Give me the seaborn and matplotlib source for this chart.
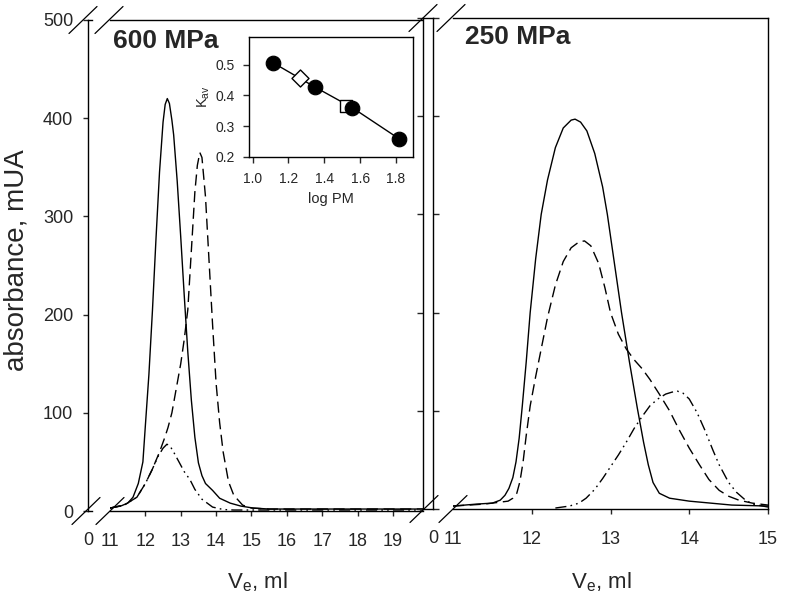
import numpy as np
import pandas as pd
import matplotlib
matplotlib.use("Agg")
import matplotlib.pyplot as plt
import seaborn as sns
from matplotlib.lines import Line2D

# ---------------- data ----------------
# 600 MPa panel
v600_solid = [11.0, 11.3, 11.5, 11.65, 11.8, 11.93, 12.0, 12.1, 12.2, 12.3, 12.4, 12.5, 12.56, 12.62,
              12.68, 12.75, 12.8, 12.9, 13.0, 13.1, 13.2, 13.3, 13.4, 13.5, 13.6, 13.7, 13.9, 14.1, 14.4,
              14.7, 15.05, 15.5, 16.5, 17.5, 18.5, 19.85]
a600_solid = [3, 5, 8, 14, 28, 50, 87, 139, 204, 277, 345, 396, 414, 420,
              415, 398, 383, 336, 279, 219, 162, 113, 75, 49, 36, 28, 21, 13, 8,
              5, 3, 2, 2, 2, 2, 2]
v600_dash = [11.0, 11.4, 11.76, 12.0, 12.19, 12.4, 12.55, 12.64, 12.75, 12.85, 13.0, 13.1, 13.2,
             13.3, 13.4, 13.47, 13.54, 13.6, 13.7, 13.8, 13.9, 14.0, 14.1, 14.2, 14.35, 14.5,
             14.75, 15.0, 15.5, 16.5, 17.5, 18.5, 19.85]
a600_dash = [3, 6, 14, 28, 42, 60, 75, 85, 100, 120, 150, 175, 205,
             265, 325, 352, 365, 360, 320, 255, 190, 130, 90, 60, 30, 16,
             6, 3, 2, 2, 2, 2, 2]
v600_dd = [11.0, 11.4, 11.76, 12.0, 12.19, 12.35, 12.5, 12.61, 12.7, 12.8, 12.95, 13.1, 13.26,
           13.4, 13.6, 13.9, 14.2, 14.5, 15.0, 16.5, 18.0, 19.85]
a600_dd = [3, 6, 14, 28, 42, 55, 64, 68, 66, 60, 50, 40, 32,
           22, 12, 4, 1.5, 1, 1, 1, 1, 1]

# 250 MPa panel
v250_solid = [11.0, 11.3, 11.5, 11.6, 11.66, 11.71, 11.76, 11.8, 11.84, 11.88, 11.93, 11.98, 12.05,
              12.12, 12.2, 12.3, 12.4, 12.5, 12.55, 12.62, 12.7, 12.8, 12.9, 12.96, 13.05, 13.14,
              13.24, 13.34, 13.42, 13.48, 13.54, 13.62, 13.75, 14.0, 14.54, 15.0]
a250_solid = [3, 5, 6, 9, 14, 21, 32, 48, 72, 105, 150, 200, 255,
              300, 335, 368, 388, 396, 397, 394, 385, 362, 328, 300, 250, 200,
              150, 103, 68, 45, 27, 16, 11, 8, 4, 3]
v250_dash = [11.0, 11.4, 11.7, 11.76, 11.81, 11.85, 11.89, 11.93, 11.98, 12.05, 12.1, 12.2, 12.3,
             12.4, 12.5, 12.6, 12.67, 12.75, 12.85, 12.93, 13.0, 13.1, 13.2, 13.3, 13.4, 13.5, 13.62,
             13.75, 13.87, 14.0, 14.13, 14.25, 14.38, 14.5, 14.63, 14.8, 15.0]
a250_dash = [3, 5, 8, 11, 16, 28, 48, 75, 105, 135, 155, 195, 228,
             252, 266, 272, 273, 268, 250, 225, 200, 178, 163, 152, 143, 132, 117,
             100, 81, 62, 45, 30, 19, 13, 9, 6, 4]
v250_dd = [12.3, 12.48, 12.6, 12.69, 12.8, 12.9, 13.0, 13.1, 13.2, 13.3, 13.4, 13.5, 13.6, 13.7,
           13.78, 13.85, 13.92, 14.0, 14.1, 14.2, 14.3, 14.38, 14.5, 14.6, 14.7, 14.8, 15.0]
a250_dd = [1, 3, 6, 11, 20, 31, 43, 55, 68, 82, 94, 105, 112, 117,
           119, 120, 118, 112, 98, 80, 60, 45, 27, 17, 10, 5, 2]

# inset: K_av vs log PM
logpm_std = [1.115, 1.349, 1.557, 1.818]
kav_std = [0.506, 0.427, 0.360, 0.259]
logpm_diamond = [1.265]
kav_diamond = [0.456]
logpm_square = [1.522]
kav_square = [0.366]

y_ticks = [0, 100, 200, 300, 400, 500]
x_ticks_600 = [11, 12, 13, 14, 15, 16, 17, 18, 19]
x_ticks_250 = [11, 12, 13, 14, 15]
inset_xticks = [1.0, 1.2, 1.4, 1.6, 1.8]
inset_yticks = [0.2, 0.3, 0.4, 0.5]

# ---------------- style ----------------
sns.set_theme(style="white")
plt.rcParams["font.family"] = ["Liberation Sans", "DejaVu Sans"]
plt.rcParams["mathtext.fontset"] = "custom"
plt.rcParams["mathtext.rm"] = "Liberation Sans"
plt.rcParams["mathtext.it"] = "Liberation Sans:italic"
plt.rcParams["axes.linewidth"] = 1.0
plt.rcParams["axes.edgecolor"] = "black"

W, H = 786, 600
fig = plt.figure(figsize=(W / 100, H / 100), dpi=100)


def rect(x0, x1, ytop, ybot):
    return [x0 / W, 1 - ybot / H, (x1 - x0) / W, (ybot - ytop) / H]


FS_TICK = 13
TL = 3.6
PADX = 12
PADY = 7

solid_ls = "-"
dash_ls = (0, (8, 4))
dd_ls = (0, (8, 3, 1.2, 3, 1.2, 3))
LW = 1.0

# left strip (0 tick)
axLs = fig.add_axes(rect(88, 92, 20, 511))
axLs.set_xlim(0, 1)
axLs.set_ylim(0, 500)
axLs.set_xticks([0])
axLs.set_yticks(y_ticks)
axLs.spines["right"].set_visible(False)
axLs.tick_params(axis="y", direction="out", length=TL, width=1, labelsize=FS_TICK, pad=PADY, left=True)
axLs.tick_params(axis="x", length=0, labelsize=FS_TICK, pad=PADX + 3, bottom=True)
axLs.set_ylabel("absorbance, mUA", fontsize=20)
axLs.yaxis.set_label_coords(30 / W, 1 - 260 / H, transform=fig.transFigure)

# left main panel
axL = fig.add_axes(rect(110, 423, 20, 511))
df = pd.DataFrame({"V": v600_solid, "A": a600_solid})
sns.lineplot(data=df, x="V", y="A", ax=axL, color="black", lw=LW, linestyle=solid_ls)
df = pd.DataFrame({"V": v600_dash, "A": a600_dash})
sns.lineplot(data=df, x="V", y="A", ax=axL, color="black", lw=LW, linestyle=dash_ls)
df = pd.DataFrame({"V": v600_dd, "A": a600_dd})
sns.lineplot(data=df, x="V", y="A", ax=axL, color="black", lw=LW, linestyle=dd_ls)
axL.set_xlim(11, 19.85)
axL.set_ylim(0, 500)
axL.set_xticks(x_ticks_600)
axL.set_yticks([])
axL.spines["left"].set_visible(False)
axL.spines["right"].set_visible(False)
axL.tick_params(axis="x", direction="out", length=TL, width=1, labelsize=FS_TICK, pad=PADX, bottom=True)
axL.xaxis.get_major_ticks()[0].tick1line.set_visible(False)
axL.set_ylabel("")
axL.set_xlabel("V$_\\mathregular{e}$, ml", fontsize=16)
axL.xaxis.set_label_coords(257 / W, 1 - 570 / H, transform=fig.transFigure)
axL.text(0.008, (511 - 41) / 491, "600 MPa", transform=axL.transAxes,
         fontsize=19, fontweight="bold", ha="left", va="center")

# right strip
axRs = fig.add_axes(rect(423, 433, 18, 509))
axRs.set_xlim(-1, 0)
axRs.set_ylim(0, 500)
axRs.set_xticks([0])
axRs.set_yticks(y_ticks)
axRs.set_yticklabels([])
axRs.tick_params(axis="y", direction="out", length=TL + 1, width=1, left=True, right=True)
axRs.tick_params(axis="x", length=0, labelsize=FS_TICK, pad=PADX + 3, bottom=True)

# right main panel
axR = fig.add_axes(rect(453, 768, 18, 509))
df = pd.DataFrame({"V": v250_solid, "A": a250_solid})
sns.lineplot(data=df, x="V", y="A", ax=axR, color="black", lw=LW, linestyle=solid_ls)
df = pd.DataFrame({"V": v250_dash, "A": a250_dash})
sns.lineplot(data=df, x="V", y="A", ax=axR, color="black", lw=LW, linestyle=dash_ls)
df = pd.DataFrame({"V": v250_dd, "A": a250_dd})
sns.lineplot(data=df, x="V", y="A", ax=axR, color="black", lw=LW, linestyle=dd_ls)
axR.set_xlim(11, 15)
axR.set_ylim(0, 500)
axR.set_xticks(x_ticks_250)
axR.set_yticks([])
axR.spines["left"].set_visible(False)
axR.tick_params(axis="x", direction="out", length=TL, width=1, labelsize=FS_TICK, pad=PADX, bottom=True)
axR.xaxis.get_major_ticks()[0].tick1line.set_visible(False)
axR.set_ylabel("")
axR.set_xlabel("V$_\\mathregular{e}$, ml", fontsize=16)
axR.xaxis.set_label_coords(601 / W, 1 - 570 / H, transform=fig.transFigure)
axR.text((465 - 453) / 315, (509 - 37.5) / 491, "250 MPa", transform=axR.transAxes,
         fontsize=19, fontweight="bold", ha="left", va="center")

# inset
axI = fig.add_axes(rect(249, 413, 37, 157))
axI.plot(logpm_std, kav_std, color="black", lw=1.0, zorder=1)
sns.scatterplot(x=logpm_std, y=kav_std, ax=axI, color="black", s=110, edgecolor="black", zorder=3)
sns.scatterplot(x=logpm_diamond, y=kav_diamond, ax=axI, marker="D", color="white", s=75,
                edgecolor="black", linewidth=1.0, zorder=4)
sns.scatterplot(x=logpm_square, y=kav_square, ax=axI, marker="s", color="white", s=75,
                edgecolor="black", linewidth=1.0, zorder=2)
axI.set_xlim(0.98, 1.895)
axI.set_ylim(0.2, 0.59)
axI.set_xticks(inset_xticks)
axI.set_xticklabels(["%.1f" % t for t in inset_xticks])
axI.set_yticks(inset_yticks)
axI.set_yticklabels(["%.1f" % t for t in inset_yticks])
axI.tick_params(axis="y", direction="out", length=4, width=1, labelsize=10, left=True, pad=6)
axI.tick_params(axis="x", direction="out", length=4, width=1, labelsize=10, bottom=True, pad=7)
axI.set_xlabel("log PM", fontsize=10.5, labelpad=4)
axI.set_ylabel("K$_\\mathregular{av}$", fontsize=10.5, labelpad=3)

# break marks (decorations in pixel space)
def slash(cx, cy, dx=14, dy=13.5):
    fig.add_artist(Line2D([(cx - dx) / W, (cx + dx) / W], [1 - (cy + dy) / H, 1 - (cy - dy) / H],
                          transform=fig.transFigure, color="black", lw=0.9))

for cx, cy in [(83, 20), (109, 20), (86, 511), (110, 511),
               (423, 18), (451, 18), (424, 509), (453, 509)]:
    slash(cx, cy)

fig.savefig("out.png", dpi=100)
